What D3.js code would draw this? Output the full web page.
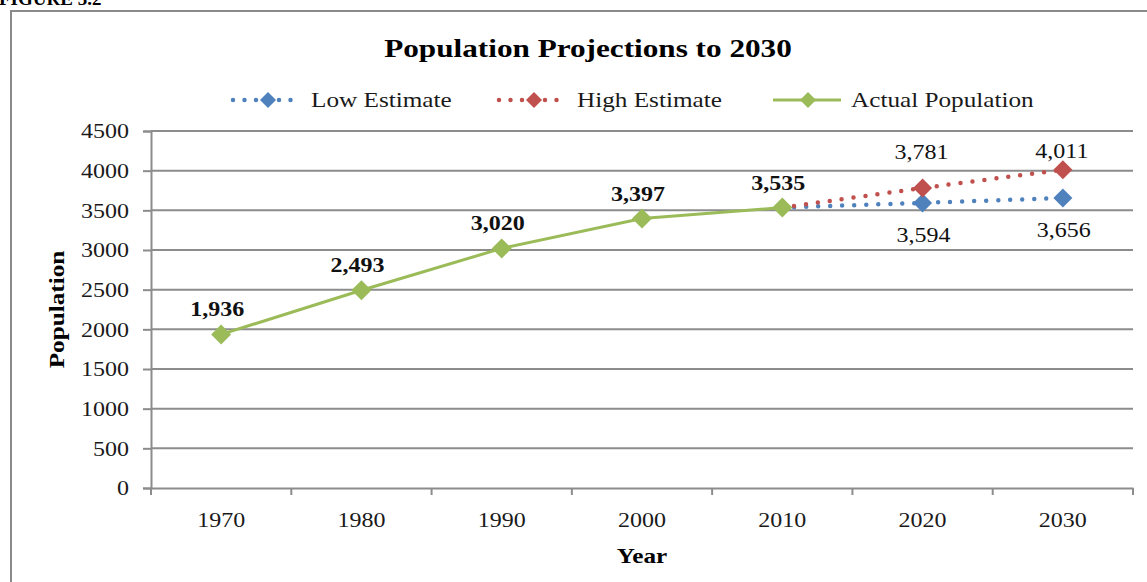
<!DOCTYPE html>
<html><head><meta charset="utf-8">
<script src="https://cdn.jsdelivr.net/npm/d3@7"></script>
<style>
html,body{margin:0;padding:0;background:#fff;}
svg{display:block;font-family:"Liberation Serif","Times New Roman",serif;}
</style></head>
<body>
<svg id="chart" width="1147" height="582"></svg>
<script>
const years = ["1970","1980","1990","2000","2010","2020","2030"];
const actualYears = ["1970","1980","1990","2000","2010"];
const actualValues = [1936, 2493, 3020, 3397, 3535];
const lowYears = ["2010","2020","2030"];
const lowValues = [3535, 3594, 3656];
const highYears = ["2010","2020","2030"];
const highValues = [3535, 3781, 4011];
const yTicks = [0,500,1000,1500,2000,2500,3000,3500,4000,4500];
const seriesNames = ["Low Estimate","High Estimate","Actual Population"];
const colors = {low:"#4F81BD", high:"#C0504D", actual:"#9BBB59"};
const fmt = d3.format(",");
const STRETCH = 1.2;

const svg = d3.select("#chart");
const M = {left:151, right:1133, top:131, bottom:488};
const x = d3.scaleBand().domain(years).range([M.left, M.right]);
const y = d3.scaleLinear().domain([0,4500]).range([M.bottom, M.top]);
const cx = d => x(d) + x.bandwidth()/2;

function stretch(sel){
  sel.each(function(){
    const len = this.getComputedTextLength();
    d3.select(this).attr("textLength", len*STRETCH).attr("lengthAdjust","spacingAndGlyphs");
  });
}

// figure caption (cut off)
svg.append("text").attr("x",-1).attr("y",5).attr("font-weight","bold").attr("font-size",19)
  .attr("font-family","Liberation Serif").text("FIGURE 3.2");

// frame
svg.append("path").attr("d","M11,582 L11,11 L1147,11").attr("fill","none")
  .attr("stroke","#8a8a8a").attr("stroke-width",2);

// gridlines
svg.append("g").selectAll("line").data(yTicks.filter(d=>d>0)).join("line")
  .attr("x1",M.left).attr("x2",M.right).attr("y1",d=>y(d)).attr("y2",d=>y(d))
  .attr("stroke","#8c8c8c").attr("stroke-width",2);

// y axis
const yAxis = svg.append("g").attr("transform",`translate(${M.left},0)`)
  .call(d3.axisLeft(y).tickValues(yTicks).tickSize(8).tickPadding(14).tickFormat(d3.format("d")));
yAxis.select(".domain").attr("stroke","#8c8c8c").attr("stroke-width",2);
yAxis.selectAll(".tick line").attr("stroke","#8c8c8c").attr("stroke-width",2);
yAxis.selectAll(".tick text").attr("font-size",20).attr("font-family","Liberation Serif").attr("fill","#1a1a1a").attr("dy","0.34em").call(stretch);

// x axis
const xAxis = svg.append("g").attr("transform",`translate(0,${M.bottom})`)
  .call(d3.axisBottom(x).tickSize(0).tickPadding(0));
xAxis.select(".domain").attr("stroke","#8c8c8c").attr("stroke-width",2);
xAxis.selectAll(".tick text").attr("font-size",20).attr("font-family","Liberation Serif").attr("fill","#1a1a1a").attr("y",39).attr("dy",0).call(stretch);
// band boundary ticks
const bounds = years.map(d=>x(d)).concat([x(years[years.length-1])+x.bandwidth()]);
xAxis.append("g").selectAll("line").data(bounds).join("line")
  .attr("x1",d=>d).attr("x2",d=>d).attr("y1",0).attr("y2",7)
  .attr("stroke","#8c8c8c").attr("stroke-width",2);

// axis titles
svg.append("text").attr("x",(M.left+M.right)/2).attr("y",563).attr("text-anchor","middle")
  .attr("font-weight","bold").attr("font-size",21).text("Year").call(stretch);
svg.append("text").attr("transform",`translate(64,${(M.top+M.bottom)/2}) rotate(-90)`)
  .attr("text-anchor","middle").attr("font-weight","bold").attr("font-size",21).text("Population").call(stretch);

// title
svg.append("text").attr("x",588).attr("y",57).attr("text-anchor","middle")
  .attr("font-weight","bold").attr("font-size",26).text("Population Projections to 2030").call(stretch);

const diamond = d3.symbol().type(d3.symbolDiamond2);
function drawDiamond(g, px, py, r, color){
  g.append("path").attr("d", `M${px},${py-r} L${px+r},${py} L${px},${py+r} L${px-r},${py} Z`).attr("fill",color);
}

// low & high series (dotted)
const smooth = d3.line().x(d=>cx(d[0])).y(d=>y(d[1])).curve(d3.curveCatmullRom.alpha(0.5));
const lowData = lowYears.map((d,i)=>[d,lowValues[i]]);
const highData = highYears.map((d,i)=>[d,highValues[i]]);
const actualData = actualYears.map((d,i)=>[d,actualValues[i]]);

svg.append("path").datum(lowData).attr("d",smooth).attr("fill","none").attr("stroke",colors.low)
  .attr("stroke-width",4.5).attr("stroke-linecap","round").attr("stroke-dasharray","0,12");
svg.append("path").datum(highData).attr("d",smooth).attr("fill","none").attr("stroke",colors.high)
  .attr("stroke-width",4.5).attr("stroke-linecap","round").attr("stroke-dasharray","0,12");

const mk = svg.append("g");
lowData.slice(1).forEach(d=>drawDiamond(mk, cx(d[0]), y(d[1]), 9.5, colors.low));
highData.slice(1).forEach(d=>drawDiamond(mk, cx(d[0]), y(d[1]), 9.5, colors.high));

// actual line
svg.append("path").datum(actualData).attr("d",d3.line().x(d=>cx(d[0])).y(d=>y(d[1])))
  .attr("fill","none").attr("stroke",colors.actual).attr("stroke-width",3);
actualData.forEach(d=>drawDiamond(mk.append("g"), cx(d[0]), y(d[1]), 10, colors.actual));
mk.raise();

// data labels
const lab = svg.append("g").attr("font-size",20).attr("fill","#111").attr("text-anchor","middle");
actualData.forEach(d=>{
  lab.append("text").attr("x",cx(d[0])-4).attr("y",y(d[1])-18).attr("font-weight","bold").text(fmt(d[1])).call(stretch);
});
highData.slice(1).forEach(d=>{
  lab.append("text").attr("x",cx(d[0])-1).attr("y",Math.max(y(d[1])-29, M.top+27)).text(fmt(d[1])).call(stretch);
});
lowData.slice(1).forEach(d=>{
  lab.append("text").attr("x",cx(d[0])+1).attr("y",y(d[1])+39).text(fmt(d[1])).call(stretch);
});

// legend
const leg = svg.append("g");
const legendItems = [
  {name:seriesNames[0], color:colors.low, dotted:true, x0:233},
  {name:seriesNames[1], color:colors.high, dotted:true, x0:499},
  {name:seriesNames[2], color:colors.actual, dotted:false, x0:773}
];
legendItems.forEach(it=>{
  const ly = 100;
  const l = leg.append("line").attr("x1",it.x0).attr("x2",it.x0+68).attr("y1",ly).attr("y2",ly).attr("stroke",it.color);
  if(it.dotted) l.attr("stroke-width",4.5).attr("stroke-linecap","round").attr("stroke-dasharray","0,11.5");
  else l.attr("stroke-width",3);
  drawDiamond(leg, it.x0+35, ly, 8, it.color);
  leg.append("text").attr("x",it.x0+78).attr("y",ly+7).attr("font-size",21).attr("fill","#1a1a1a").text(it.name).call(stretch);
});
</script>
</body></html>
